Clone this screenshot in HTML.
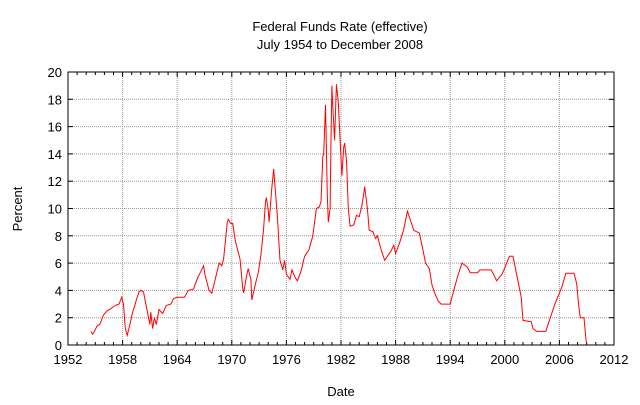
<!DOCTYPE html>
<html><head><meta charset="utf-8"><style>
body{margin:0;background:#fff}
svg text{font-family:"Liberation Sans",sans-serif;font-size:13px;fill:#000}
</style></head><body>
<svg id="c" width="640" height="400">
<text x="340" y="31" text-anchor="middle">Federal Funds Rate (effective)</text>
<text x="340" y="49" text-anchor="middle">July 1954 to December 2008</text>
<text x="341" y="396" text-anchor="middle">Date</text>
<text x="22" y="209" text-anchor="middle" transform="rotate(-90 22 209)">Percent</text>
<g id="grid"></g><g id="ticks"></g>
<path id="line" fill="none" stroke="#ff0000" stroke-width="1"/>
<rect x="68" y="72" width="546" height="273" fill="none" stroke="#000" stroke-width="1"/>
</svg>
<script>
const xTicks=[1952,1958,1964,1970,1976,1982,1988,1994,2000,2006,2012];
const yTicks=[0,2,4,6,8,10,12,14,16,18,20];
const years=[1954.5,1954.7,1954.9,1955.2,1955.5,1955.9,1956.3,1956.8,1957.2,1957.6,1957.9,1958.1,1958.3,1958.5,1958.8,1959.1,1959.3,1959.5,1959.8,1960.0,1960.3,1960.5,1960.7,1961.0,1961.1,1961.3,1961.5,1961.7,1962.0,1962.4,1962.8,1963.3,1963.6,1964.0,1964.8,1965.2,1965.8,1966.0,1966.3,1966.6,1966.9,1967.1,1967.5,1967.8,1968.1,1968.6,1968.9,1969.1,1969.5,1969.6,1969.9,1970.1,1970.4,1970.9,1971.2,1971.3,1971.6,1971.8,1972.1,1972.2,1972.6,1972.9,1973.2,1973.5,1973.7,1973.8,1974.0,1974.1,1974.4,1974.6,1974.7,1975.0,1975.3,1975.6,1975.8,1976.0,1976.4,1976.6,1977.0,1977.2,1977.6,1978.0,1978.5,1978.9,1979.3,1979.6,1979.8,1980.0,1980.1,1980.3,1980.5,1980.6,1980.8,1980.9,1981.0,1981.1,1981.3,1981.5,1981.7,1981.9,1982.1,1982.3,1982.4,1982.6,1982.8,1983.0,1983.4,1983.7,1984.0,1984.3,1984.6,1984.9,1985.1,1985.5,1985.8,1986.0,1986.4,1986.8,1987.0,1987.5,1987.8,1988.0,1988.5,1988.9,1989.3,1989.7,1990.0,1990.6,1990.9,1991.3,1991.7,1992.0,1992.3,1992.7,1993.0,1994.0,1994.4,1994.8,1995.3,1995.9,1996.2,1997.0,1997.3,1998.5,1998.9,1999.1,1999.7,1999.9,2000.5,2000.9,2001.2,2001.8,2002.0,2002.9,2003.1,2003.5,2004.5,2005.0,2005.5,2006.3,2006.7,2007.6,2007.9,2008.1,2008.3,2008.7,2008.95];
const rates=[1.0,0.8,1.0,1.4,1.5,2.2,2.5,2.7,2.9,3.0,3.5,3.0,1.2,0.7,1.5,2.4,2.8,3.3,3.9,4.0,3.9,3.2,2.5,1.5,2.4,1.2,2.0,1.5,2.6,2.3,2.9,3.0,3.4,3.5,3.5,4.0,4.1,4.5,5.0,5.4,5.8,5.0,4.0,3.8,4.6,6.0,5.8,6.3,9.0,9.2,8.9,8.9,7.6,6.3,4.2,3.8,5.0,5.6,4.8,3.3,4.5,5.3,6.6,8.5,10.5,10.8,9.9,9.0,11.5,12.9,12.0,9.5,6.2,5.5,6.2,5.2,4.8,5.5,4.9,4.7,5.4,6.5,7.0,8.0,10.0,10.1,10.5,13.8,14.0,17.6,11.0,9.0,10.0,15.0,19.0,17.5,15.0,19.1,17.8,15.0,12.4,14.5,14.8,13.5,10.0,8.7,8.8,9.5,9.4,10.2,11.6,10.0,8.4,8.3,7.8,8.0,7.0,6.2,6.4,6.9,7.3,6.7,7.6,8.5,9.8,9.0,8.4,8.2,7.3,6.0,5.6,4.4,3.8,3.2,3.0,3.0,4.0,5.0,6.0,5.7,5.3,5.3,5.5,5.5,5.0,4.7,5.2,5.5,6.5,6.5,5.5,3.5,1.8,1.7,1.2,1.0,1.0,2.0,3.0,4.3,5.25,5.25,4.5,3.0,2.0,2.0,0.2];
const X0=68,X1=614,Y0=345,Y1=72;
const xs=v=>X0+(v-1952)/60*(X1-X0);
const ys=v=>Y0-v/20*(Y0-Y1);
const NS='http://www.w3.org/2000/svg';
const grid=document.getElementById('grid'),tk=document.getElementById('ticks');
function mk(tag,attrs,parent){const e=document.createElementNS(NS,tag);for(const k in attrs)e.setAttribute(k,attrs[k]);parent.appendChild(e);return e;}
xTicks.forEach(t=>{const x=xs(t);
 if(t>1952&&t<2012){const g=mk('line',{x1:x,x2:x,y1:Y1,y2:Y0,stroke:'#999','stroke-dasharray':'1,1'},grid);
 
 }
 mk('line',{x1:x,x2:x,y1:Y0,y2:Y0-5,stroke:'#000'},tk);mk('line',{x1:x,x2:x,y1:Y1,y2:Y1+5,stroke:'#000'},tk);
 const l=mk('text',{x:x,y:Y0+19,'text-anchor':'middle'},tk);l.textContent=t;
 
 });
for(let y=1953;y<2012;y++){if((y-1952)%6===0)continue;const x=xs(y);
 mk('line',{x1:x,x2:x,y1:Y0,y2:Y0-3,stroke:'#000'},tk);mk('line',{x1:x,x2:x,y1:Y1,y2:Y1+3,stroke:'#000'},tk);}
yTicks.forEach(t=>{const y=ys(t);
 if(t>0&&t<20){const g=mk('line',{x1:X0,x2:X1,y1:y,y2:y,stroke:'#999','stroke-dasharray':'1,1'},grid);
 
 }
 mk('line',{x1:X0,x2:X0+5,y1:y,y2:y,stroke:'#000'},tk);mk('line',{x1:X1,x2:X1-5,y1:y,y2:y,stroke:'#000'},tk);
 const l=mk('text',{x:X0-6,y:y+5,'text-anchor':'end'},tk);l.textContent=t;
 
 });
document.getElementById('line').setAttribute('d',years.map((yr,i)=>(i?'L':'M')+xs(yr).toFixed(1)+','+ys(rates[i]).toFixed(1)).join(''));
</script>
</body></html>
